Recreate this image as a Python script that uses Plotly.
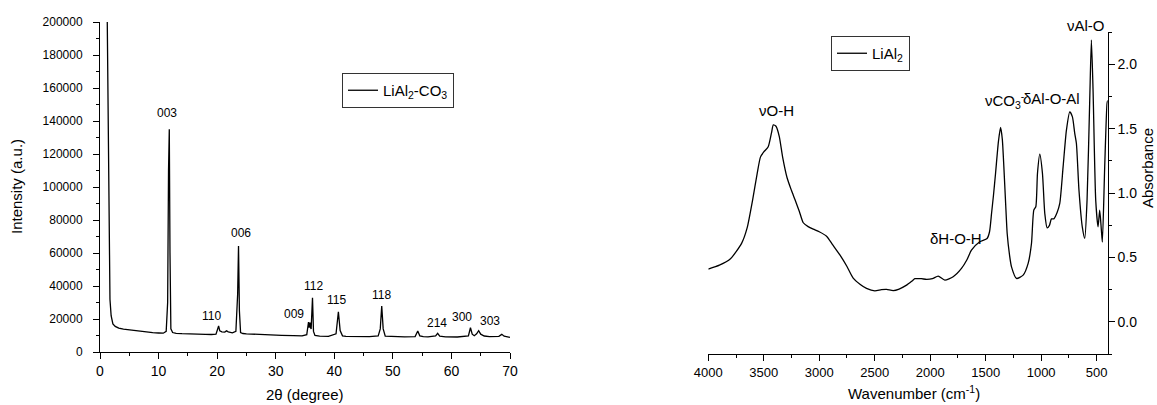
import plotly.graph_objects as go

# ---------------- XRD data (2theta, intensity) ----------------
xrd_2theta = [1.2, 1.3, 1.38, 1.45, 1.55, 1.7, 1.9, 2.2, 2.6, 3.2, 4, 5, 6, 7, 8, 9, 10,
              10.8, 11.3, 11.55, 11.7, 11.83, 11.95, 12.1, 12.4, 13, 14, 15, 16, 17, 18, 19,
              19.8, 20.05, 20.25, 20.45, 20.8, 21.3, 21.6, 21.9, 22.6, 23.2, 23.5, 23.65,
              23.8, 24.0, 24.4, 25, 27, 29, 31, 33, 34.5, 35.3, 35.6, 35.7, 35.74, 35.78,
              35.82, 35.86, 35.9, 35.95, 36.05, 36.28, 36.45, 36.7, 37.5, 39, 40.3, 40.7,
              41.0, 41.4, 42, 44, 45.5, 46, 47.5, 47.85, 48.1, 48.35, 48.7, 50, 52, 53.8,
              54.25, 54.6, 55.2, 56, 57.3, 57.65, 58.0, 59, 61, 62.9, 63.25, 63.55, 63.9,
              64.3, 64.65, 65.0, 65.6, 66.5, 68.1, 68.6, 69.0, 70]
xrd_intensity = [215000, 175000, 125000, 92000, 62000, 32000, 22000, 17000, 15500, 14500,
                 13800, 13300, 12800, 12400, 12000, 11700, 11500, 11400, 12500, 30000,
                 110000, 135000, 60000, 14000, 11800, 11300, 11100, 10900, 10800, 10700,
                 10700, 10600, 10800, 13500, 15800, 12800, 12200, 12100, 12800, 12200,
                 11600, 12500, 35000, 64200, 25000, 11800, 11200, 11000, 10600, 10300,
                 10100, 9900, 9800, 10500, 18200, 14800, 17800, 14800, 17800, 14800,
                 17800, 14800, 14000, 32900, 12500, 10000, 9600, 9500, 11000, 24400,
                 13000, 9800, 9500, 9400, 9500, 9300, 9800, 14000, 27900, 14000, 9600,
                 9300, 9200, 9300, 12700, 9800, 9300, 9200, 9700, 11300, 9600, 9200, 9100,
                 9800, 14700, 10800, 9900, 11000, 12900, 10800, 9700, 9300, 9500, 10700,
                 9600, 8900]

xrd_labels = ["003", "006", "110", "009", "112", "115", "118", "214", "300", "303"]
xrd_label_x = [11.4, 24.0, 19.1, 33.2, 36.5, 40.4, 48.1, 57.6, 61.8, 66.5]
xrd_label_y = [145000, 71900, 22000, 22800, 40000, 31500, 34500, 17800, 21400, 19000]

# ---------------- FTIR data (wavenumber, absorbance) ----------------
ir_wavenumber = [4000, 3900, 3800, 3700, 3650, 3600, 3560, 3530, 3500, 3460, 3430, 3414,
                 3390, 3360, 3330, 3290, 3250, 3219, 3180, 3144, 3100, 3054, 3000, 2934,
                 2880, 2814, 2750, 2694, 2630, 2574, 2499, 2440, 2393, 2333, 2280, 2213,
                 2160, 2138, 2080, 2033, 1980, 1928, 1868, 1793, 1718, 1670, 1628, 1553,
                 1487, 1465, 1447, 1430, 1411, 1385, 1366, 1350, 1336, 1320, 1306, 1285,
                 1267, 1222, 1162, 1117, 1087, 1066, 1048, 1033, 1012, 988, 967, 946, 925,
                 907, 886, 856, 832, 802, 772, 742, 718, 697, 682, 659, 629, 607, 586, 562,
                 547, 532, 508, 487, 472, 457, 448, 427, 406, 400]
ir_absorbance = [0.41, 0.44, 0.49, 0.61, 0.73, 0.95, 1.15, 1.28, 1.32, 1.36, 1.47, 1.53,
                 1.52, 1.44, 1.28, 1.12, 1.02, 0.95, 0.86, 0.77, 0.74, 0.72, 0.70, 0.665,
                 0.60, 0.52, 0.43, 0.34, 0.29, 0.26, 0.241, 0.25, 0.252, 0.243, 0.255,
                 0.285, 0.32, 0.335, 0.335, 0.33, 0.335, 0.355, 0.324, 0.35, 0.415, 0.48,
                 0.557, 0.622, 0.648, 0.70, 0.842, 0.98, 1.153, 1.40, 1.51, 1.42, 1.204,
                 0.92, 0.687, 0.52, 0.427, 0.337, 0.363, 0.454, 0.609, 0.868, 0.894, 1.153,
                 1.303, 1.153, 0.842, 0.73, 0.75, 0.80, 0.80, 0.85, 0.92, 1.204, 1.49,
                 1.632, 1.593, 1.464, 1.386, 1.023, 0.738, 0.648, 0.945, 1.723, 2.19, 1.80,
                 0.945, 0.738, 0.868, 0.712, 0.62, 1.204, 1.697, 1.72]

ir_labels = ["νO-H", "δH-O-H", "νCO<sub>3</sub><sup>-</sup>", "δAl-O-Al", "νAl-O"]
ir_label_x = [3384, 1763, 1330, 907, 592]
ir_label_y = [1.64, 0.65, 1.72, 1.736, 2.30]

FONT = "Arial, Liberation Sans, sans-serif"
W, H = 1157, 405
IR_YMIN, IR_YMAX = -0.25, 2.25

fig = go.Figure()
fig.add_trace(go.Scatter(x=xrd_2theta, y=xrd_intensity, mode="lines",
                         line=dict(color="black", width=1.3),
                         name="LiAl<sub>2</sub>-CO<sub>3</sub>",
                         xaxis="x", yaxis="y", legend="legend"))
fig.add_trace(go.Scatter(x=ir_wavenumber, y=ir_absorbance, mode="lines",
                         line=dict(color="black", width=1.3, shape="spline", smoothing=0.6),
                         name="LiAl<sub>2</sub>",
                         xaxis="x2", yaxis="y2", legend="legend2"))

common = dict(showline=True, linecolor="black", linewidth=1, ticks="outside",
              ticklen=6, tickcolor="black", tickwidth=1, showgrid=False,
              zeroline=False, automargin=False)
minor = dict(ticklen=3, ticks="outside", tickcolor="black", tickwidth=1)
anch = dict(xanchor="center", yanchor="middle", showarrow=False)

annotations = []
for t, x, y in zip(xrd_labels, xrd_label_x, xrd_label_y):
    annotations.append(dict(text=t, x=x, y=y, xref="x", yref="y",
                            font=dict(family=FONT, size=12, color="black"), **anch))
for t, x, y in zip(ir_labels, ir_label_x, ir_label_y):
    annotations.append(dict(text=t, x=x, y=(y - IR_YMIN) / (IR_YMAX - IR_YMIN),
                            xref="x2", yref="y2 domain",
                            font=dict(family=FONT, size=15, color="black"), **anch))

titlefont = dict(family=FONT, size=15, color="black")
annotations += [
    dict(text="Intensity (a.u.)", x=17 / W, y=1 - 187 / H, xref="paper", yref="paper",
         textangle=-90, font=titlefont, **anch),
    dict(text="2θ (degree)", x=305 / W, y=1 - 394 / H, xref="paper", yref="paper",
         font=titlefont, **anch),
    dict(text="Wavenumber (cm<sup>-1</sup>)", x=914 / W, y=1 - 392 / H, xref="paper",
         yref="paper", font=titlefont, **anch),
    dict(text="Absorbance", x=1148 / W, y=1 - 168 / H, xref="paper", yref="paper",
         textangle=-90, font=titlefont, **anch),
]

fig.update_layout(
    width=W, height=H, margin=dict(l=0, r=0, t=0, b=0, autoexpand=False),
    paper_bgcolor="white", plot_bgcolor="white",
    font=dict(family=FONT, color="black"),
    xaxis=dict(domain=[100 / W, 510 / W], range=[0, 70], dtick=10, anchor="y",
               minor=dict(dtick=5, **minor),
               tickfont=dict(family=FONT, size=14, color="black"), **common),
    yaxis=dict(domain=[(H - 352) / H, (H - 22) / H], range=[0, 200000], dtick=20000,
               anchor="x", tickformat="d", minor=dict(dtick=10000, **minor),
               ticklabelstandoff=8,
               tickfont=dict(family=FONT, size=12, color="black"), **common),
    xaxis2=dict(domain=[708.3 / W, 1107.7 / W], range=[4000, 400], dtick=500, tick0=0,
                anchor="y2", minor=dict(dtick=250, **minor),
                tickfont=dict(family=FONT, size=13, color="black"), **common),
    yaxis2=dict(domain=[(H - 354) / H, (H - 32.3) / H], range=[IR_YMIN, IR_YMAX],
                dtick=0.5, tick0=0, anchor="x2", side="right", tickformat=".1f",
                minor=dict(dtick=0.25, **minor),
                tickfont=dict(family=FONT, size=14, color="black"), **common),
    legend=dict(x=342 / W, y=1 - 73 / H, xanchor="left", yanchor="top",
                bordercolor="#333", borderwidth=1, bgcolor="white",
                font=dict(family=FONT, size=15, color="black"),
                tracegroupgap=0, itemwidth=30),
    legend2=dict(x=831 / W, y=1 - 36 / H, xanchor="left", yanchor="top",
                 bordercolor="#333", borderwidth=1, bgcolor="white",
                 font=dict(family=FONT, size=15, color="black"),
                 tracegroupgap=0, itemwidth=30),
    showlegend=True,
    annotations=annotations,
)

fig.write_html("out.html", config={"displayModeBar": False},
               post_script="document.body.style.margin='0';document.body.style.overflow='hidden';")
